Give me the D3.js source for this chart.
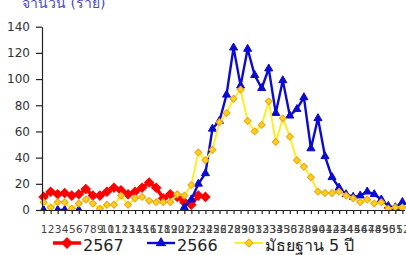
<!DOCTYPE html>
<html>
<head>
<meta charset="utf-8">
<script src="https://cdn.jsdelivr.net/npm/d3@7"></script>
<style>
  body { margin: 0; background: #fff; }
  svg { display: block; }
  text { font-family: "DejaVu Sans", "Noto Sans", sans-serif; }
</style>
</head>
<body>
<svg id="chart" width="406" height="255"></svg>
<script>
// weeks 1..52
var weeks = d3.range(1, 53)
var yTicks = [0, 20, 40, 60, 80, 100, 120, 140]

// 2567 (stops at week 24)
var cases2567 = [10, 14, 12, 13, 11, 12, 16, 11, 11, 14, 17, 15, 12, 14, 17, 21, 17, 9, 12, 10, 6, 4, 11, 10]

// 2566 (null = not shown in the original)
var cases2566 = [0, null, 0, 0, null, 0, null, null, null, null, null, null, null, null, null, null, null, null, null, null,
  2, 8, 20, 28, 62, 68, 88, 124, 95, 123, 103, 93, 108, 74, 99, 72, 77, 86, 47, 70,
  41, 25, 17, 12, 10, 11, 14, 12, 8, 3, 2, 6]

// median 5 years
var median5 = [6, 2, 6, 6, 1, 5, 8, 5, 1, 4, 4, 11, 4, 9, 10, 7, 6, 6, 6, 12,
  11, 19, 44, 38, 46, 67, 74, 85, 92, 68, 60, 65, 83, 52, 70, 56, 38, 33, 25, 14,
  13, 13, 14, 11, 9, 6, 8, 5, 6, 1, 2, 2]

var seriesNames = ["2567", "2566", "มัธยฐาน 5 ปี"]

var svg = d3.select("#chart")

var x = d3.scalePoint()
  .domain(weeks)
  .range([41.5, 404.5])
  .padding(0.3)

var y = d3.scaleLinear()
  .domain([0, 140])
  .range([210, 26.7])

// plot area clip, so marks sitting on 0 are half hidden like the original
svg.append("defs").append("clipPath")
  .attr("id", "plot-clip")
  .append("rect")
  .attr("x", 0)
  .attr("y", 0)
  .attr("width", 406)
  .attr("height", y(0))

// title (cut off at the top like the original)
svg.append("text")
  .attr("x", 22)
  .attr("y", 8)
  .attr("fill", "#4b4bc6")
  .style("font-size", "14px")
  .text("จำนวน (ราย)")

var line = d3.line()
  .defined(function(d) { return d.value != null })
  .x(function(d) { return x(d.week) })
  .y(function(d) { return y(d.value) })

function toPoints(values) {
  return values.map(function(v, i) { return { week: weeks[i], value: v } })
}

var series = [
  { name: seriesNames[0], data: toPoints(cases2567), color: "#ff0000", width: 3.5,
    symbol: d3.symbolSquare, size: 42, rotate: 45, fill: "#ff0000", stroke: "#ff0000" },
  { name: seriesNames[1], data: toPoints(cases2566), color: "#0a0ad2", width: 2.4,
    symbol: d3.symbolTriangle, size: 28, rotate: 0, fill: "#0a0ad2", stroke: "#0a0ad2" },
  { name: seriesNames[2], data: toPoints(median5), color: "#ffee22", width: 2,
    symbol: d3.symbolSquare, size: 24, rotate: 45, fill: "#ffd21a", stroke: "#eda21c" }
]

var plot = svg.append("g").attr("clip-path", "url(#plot-clip)")

series.forEach(function(s) {
  var g = plot.append("g")
  g.append("path")
    .datum(s.data)
    .attr("d", line)
    .attr("fill", "none")
    .attr("stroke", s.color)
    .attr("stroke-width", s.width)
    .attr("stroke-linejoin", "round")

  g.selectAll("path.mark")
    .data(s.data.filter(function(d) { return d.value != null }))
    .enter()
    .append("path")
    .attr("class", "mark")
    .attr("d", d3.symbol().type(s.symbol).size(s.size))
    .attr("transform", function(d) {
      return "translate(" + x(d.week) + "," + y(d.value) + ") rotate(" + s.rotate + ")"
    })
    .attr("fill", s.fill)
    .attr("stroke", s.stroke)
    .attr("stroke-width", 1)
})

// axes
var yAxis = d3.axisLeft(y).tickValues(yTicks).tickSize(6).tickSizeOuter(0).tickPadding(6)
svg.append("g")
  .attr("class", "axis y-axis")
  .attr("transform", "translate(42,0)")
  .call(yAxis)

var xAxis = d3.axisBottom(x).tickSize(4).tickSizeOuter(0).tickPadding(11.5)
svg.append("g")
  .attr("class", "axis x-axis")
  .attr("transform", "translate(0,210)")
  .call(xAxis)

svg.selectAll(".axis path, .axis line").attr("stroke", "#222").attr("stroke-width", 1.2)
svg.selectAll(".y-axis text").attr("fill", "#333").style("font-size", "12px")
svg.selectAll(".x-axis text").attr("fill", "#444").style("font-size", "10.5px")

// legend
var legendX = [53, 147, 235]
var legend = svg.append("g").attr("transform", "translate(0,243)")
series.forEach(function(s, i) {
  var g = legend.append("g").attr("transform", "translate(" + legendX[i] + ",0)")
  g.append("line")
    .attr("x1", 0).attr("x2", 28)
    .attr("stroke", s.color)
    .attr("stroke-width", s.width)
  g.append("path")
    .attr("d", d3.symbol().type(s.symbol).size(s.size * 1.3))
    .attr("transform", "translate(14,0) rotate(" + s.rotate + ")")
    .attr("fill", s.fill)
    .attr("stroke", s.stroke)
  g.append("text")
    .attr("x", 30)
    .attr("y", 8)
    .attr("fill", "#222")
    .style("font-size", "16px")
    .text(s.name)
})
</script>
</body>
</html>
